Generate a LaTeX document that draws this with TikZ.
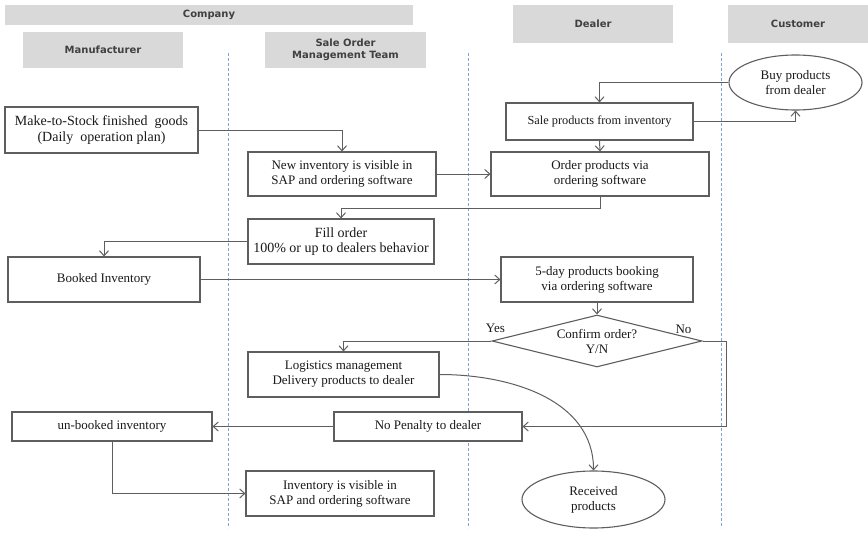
\documentclass[tikz,border=0pt]{standalone}
\usepackage{fontspec}
\setmainfont{Liberation Serif}
\newfontfamily\headfont{DejaVu Sans}
\usetikzlibrary{shapes,arrows.meta}
\usetikzlibrary{positioning}
\usepackage{xcolor}
\definecolor{boxline}{HTML}{5E5E5E}
\definecolor{headgray}{HTML}{D9D9D9}
\definecolor{lanecol}{HTML}{7FA3D6}

\begin{document}
\begin{tikzpicture}[x=1pt, y=-1pt, >={Straight Barb[length=5pt,width=9pt]},
  every node/.style={font=\fontsize{13}{15}\selectfont, text=black!90},
  head/.style={fill=headgray, text=black!75, inner sep=0pt, align=center,
    font=\headfont\bfseries\fontsize{10}{12}\selectfont},
  task/.style={draw=boxline, line width=1.1pt, fill=white, inner sep=0pt, align=center},
  oval/.style={ellipse, draw=boxline, line width=1.1pt, fill=white, inner sep=0pt, align=center},
  flow/.style={->, draw=boxline, line width=1pt},
  lane/.style={draw=lanecol, densely dashed, line width=0.6pt},
  big/.style={font=\fontsize{14}{15.5}\selectfont}]
  \useasboundingbox (0,0) rectangle (868,535);

  % swim lanes
  \foreach \lx in {228,468,721}
    \draw[lane] (\lx,53) -- (\lx,528);

  % lane headers
  \node[head, minimum width=408pt, minimum height=20pt] (company) at (209,15) {Company};
  \node[head, minimum width=160pt, minimum height=36pt] (manuf) at (103,50) {Manufacturer};
  \node[head, minimum width=161pt, minimum height=36pt] (sot) at (345.5,50) {Sale Order\\Management Team};
  \node[head, minimum width=160pt, minimum height=38pt] (dealer) at (593,24) {Dealer};
  \node[head, minimum width=140pt, minimum height=38pt] (customer) at (798,24) {Customer};

  % steps
  \node[task, big, minimum width=193pt, minimum height=46pt] (make) at (101.5,130)
    {Make-to-Stock finished\ \ goods\\(Daily\ \ operation plan)};
  \node[task, minimum width=188pt, minimum height=44pt] (newinv) at (342,174)
    {New inventory is visible in\\SAP and ordering software};
  \node[task, minimum width=218pt, minimum height=44pt] (order) at (600,174)
    {Order products via\\ordering software};
  \node[task, font=\fontsize{12.3}{14}\selectfont, minimum width=187pt, minimum height=37pt] (sale) at (599.5,121.5)
    {Sale products from inventory};
  \node[oval, minimum width=133pt, minimum height=55pt] (buy) at (795.5,82.5)
    {Buy products\\from dealer};
  \node[task, big, minimum width=186pt, minimum height=45pt] (fill) at (341,241.5)
    {Fill order\\100\% or up to dealers behavior};
  \node[task, minimum width=192pt, minimum height=45pt] (booked) at (104,279.5)
    {Booked Inventory};
  \node[task, minimum width=192pt, minimum height=45pt] (fiveday) at (597,279.5)
    {5-day products booking\\via ordering software};
  \node[diamond, aspect=4, draw=boxline, line width=1.1pt, fill=white, inner sep=0pt,
    align=center, minimum width=210pt, minimum height=52pt] (confirm) at (597,341)
    {Confirm order?\\Y/N};
  \node (yes) at ([shift={(4,-13)}]confirm.west) {Yes};
  \node (no) at ([shift={(-19,-12)}]confirm.east) {No};
  \node[task, minimum width=191pt, minimum height=45pt] (logis) at (343.5,374.5)
    {Logistics management\\Delivery products to dealer};
  \node[task, minimum width=188pt, minimum height=29pt] (nopen) at (428,426.5)
    {No Penalty to dealer};
  \node[task, minimum width=200pt, minimum height=29pt] (unbooked) at (112,426.5)
    {un-booked inventory};
  \node[task, minimum width=188pt, minimum height=45pt] (invvis) at (340,493.5)
    {Inventory is visible in\\SAP and ordering software};
  \node[oval, minimum width=143pt, minimum height=57pt] (recv) at (593.5,499.5)
    {Received\\products};

  % flows
  \draw[flow] (make.east) -| (newinv.north);
  \draw[flow] (newinv.east) -- (order.west);
  \draw[flow] (buy.west) -| (sale.north);
  \draw[flow] (sale.east) -| (buy.south);
  \draw[flow] (sale.south) -- (order.north);
  \draw[flow] (order.south) -- ++(0,12) -| (fill.north);
  \draw[flow] (fill.west) -| (booked.north);
  \draw[flow] (booked.east) -- (fiveday.west);
  \draw[flow] (fiveday.south) -- (confirm.north);
  \draw[flow] (confirm.west) -| (logis.north);
  \draw[flow] (confirm.east) -- ++(24,0) |- (nopen.east);
  \draw[flow] (nopen.west) -- (unbooked.east);
  \draw[flow] (unbooked.south) |- (invvis.west);
  \draw[flow] (logis.east) to[out=0, in=90] (recv.north);
\end{tikzpicture}
\end{document}
